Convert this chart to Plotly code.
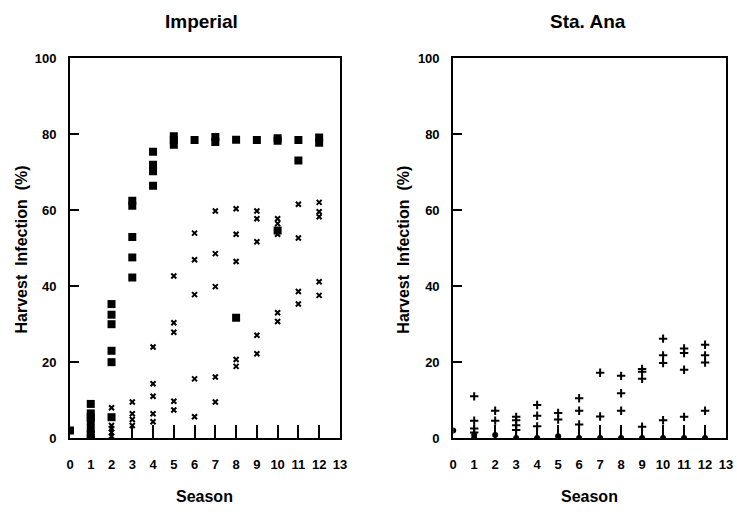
import plotly.graph_objects as go

# ---- data ----
imp_sq_season = [0] + [1]*7 + [2]*6 + [3]*5 + [4]*4 + [5]*3 + [6] + [7]*2 + [8]*2 + [9] + [10]*3 + [11]*2 + [12]*2
imp_sq_value = [2,
                 9, 6.5, 5.5, 4.5, 2.5, 1, 0,
                 35.3, 32.5, 30, 23, 20, 5.5,
                 62.5, 61.2, 53, 47.6, 42.3,
                 75.4, 72, 70.3, 66.5,
                 79.5, 78.5, 77.3,
                 78.5,
                 79.3, 78,
                 78.6, 31.7,
                 78.5,
                 79, 78.3, 54.7,
                 78.5, 73.1,
                 79.2, 77.8]

imp_x_season = [2]*5 + [3]*4 + [4]*5 + [5]*5 + [6]*5 + [7]*5 + [8]*5 + [9]*5 + [10]*5 + [11]*4 + [12]*5
imp_x_value = [8, 3.3, 2.5, 1.5, 0.5,
               9.5, 6.4, 4.9, 3.3,
               24, 14.3, 11, 6.4, 4.3,
               42.7, 30.4, 27.9, 9.7, 7.4,
               54, 47, 37.8, 15.6, 5.6,
               59.8, 48.6, 39.9, 16.1, 9.5,
               60.4, 53.7, 46.5, 20.7, 18.9,
               59.8, 57.8, 51.7, 27.1, 22.2,
               57.8, 56.5, 53.7, 33, 30.7,
               61.6, 52.7, 38.6, 35.3,
               62.1, 59.6, 58.3, 41.2, 37.6]

sta_plus_season = [1]*4 + [2]*2 + [3]*4 + [4]*3 + [5]*2 + [6]*3 + [7]*2 + [8]*3 + [9]*4 + [10]*4 + [11]*4 + [12]*4
sta_plus_value = [11, 4.6, 2.5, 1.5,
                  7.2, 4.6,
                  5.6, 4.7, 3.4, 2.1,
                  8.7, 5.9, 3.1,
                  6.6, 4.9,
                  10.5, 7.2, 3.6,
                  17.2, 5.7,
                  16.4, 11.8, 7.2,
                  18.2, 17.5, 15.6, 3,
                  26.2, 21.8, 19.8, 4.7,
                  23.6, 22.4, 18, 5.6,
                  24.6, 21.8, 19.9, 7.2]

sta_dot_season = [0, 1, 1, 2, 3, 4, 5, 6, 7, 8, 9, 10, 11, 12]
sta_dot_value = [2, 0.8, 0, 0.8, 0, 0, 0.5, 0, 0, 0, 0, 0, 0, 0]

x_ticks = list(range(0, 14))
y_ticks = [0, 20, 40, 60, 80, 100]
titles = ["Imperial", "Sta. Ana"]
x_title = "Season"
y_title = "Harvest\u00a0\u00a0Infection\u00a0\u00a0(%)"

FONT = "Liberation Sans"

fig = go.Figure()
fig.add_trace(go.Scatter(x=imp_sq_season, y=imp_sq_value, mode="markers",
                         marker=dict(symbol="square", size=8, color="black"),
                         xaxis="x", yaxis="y", showlegend=False))
fig.add_trace(go.Scatter(x=imp_x_season, y=imp_x_value, mode="markers",
                         marker=dict(symbol="x-thin", size=5, color="black",
                                     line=dict(width=2, color="black")),
                         xaxis="x", yaxis="y", showlegend=False))
fig.add_trace(go.Scatter(x=sta_plus_season, y=sta_plus_value, mode="markers",
                         marker=dict(symbol="cross-thin", size=6, color="black",
                                     line=dict(width=2, color="black")),
                         xaxis="x2", yaxis="y2", showlegend=False))
fig.add_trace(go.Scatter(x=sta_dot_season, y=sta_dot_value, mode="markers",
                         marker=dict(symbol="circle", size=6, color="black"),
                         xaxis="x2", yaxis="y2", showlegend=False))

H = 516.0
ydom = [(H - 444) / H, (H - 53) / H]

xcommon = dict(range=[0, 13], tickvals=x_ticks, ticks="inside", ticklen=13, tickwidth=1.5,
               tickcolor="black", showline=True, linecolor="black", linewidth=2,
               mirror=True, showgrid=False, zeroline=False,
               tickfont=dict(family=FONT, size=13, color="black", weight="bold"),
               ticklabelstandoff=13)
ycommon = dict(range=[0, 100], tickvals=y_ticks, ticks="inside", ticklen=9, tickwidth=1.5,
               tickcolor="black", showline=True, linecolor="black", linewidth=2,
               mirror=True, showgrid=False, zeroline=False,
               tickfont=dict(family=FONT, size=13, color="black", weight="bold"),
               ticklabelstandoff=9)

fig.update_layout(
    width=737, height=516,
    margin=dict(l=0, r=0, t=0, b=0),
    paper_bgcolor="white", plot_bgcolor="white",
    xaxis=dict(domain=[67/737, 341/737], anchor="y", **xcommon),
    yaxis=dict(domain=ydom, anchor="x", **ycommon),
    xaxis2=dict(domain=[456/737, 733/737], anchor="y2", **xcommon),
    yaxis2=dict(domain=ydom, anchor="x2", **ycommon),
)

ann = []
for cx, t in [(200, titles[0]), (593, titles[1])]:
    ann.append(dict(x=cx/737, y=1 - 15/H, xref="paper", yref="paper", text=t,
                    showarrow=False, xanchor="center", yanchor="middle",
                    font=dict(family=FONT, size=19, color="black", weight="bold")))
for cx in [204, 594]:
    ann.append(dict(x=cx/737, y=1 - 504/H, xref="paper", yref="paper", text=x_title,
                    showarrow=False, xanchor="center", yanchor="middle",
                    font=dict(family=FONT, size=16, color="black", weight="bold")))
for cx in [18, 406]:
    ann.append(dict(x=cx/737, y=1 - 250/H, xref="paper", yref="paper", text=y_title,
                    showarrow=False, xanchor="center", yanchor="middle", textangle=-90,
                    font=dict(family=FONT, size=16, color="black", weight="bold")))
fig.update_layout(annotations=ann)

fig.write_html("out.html")
